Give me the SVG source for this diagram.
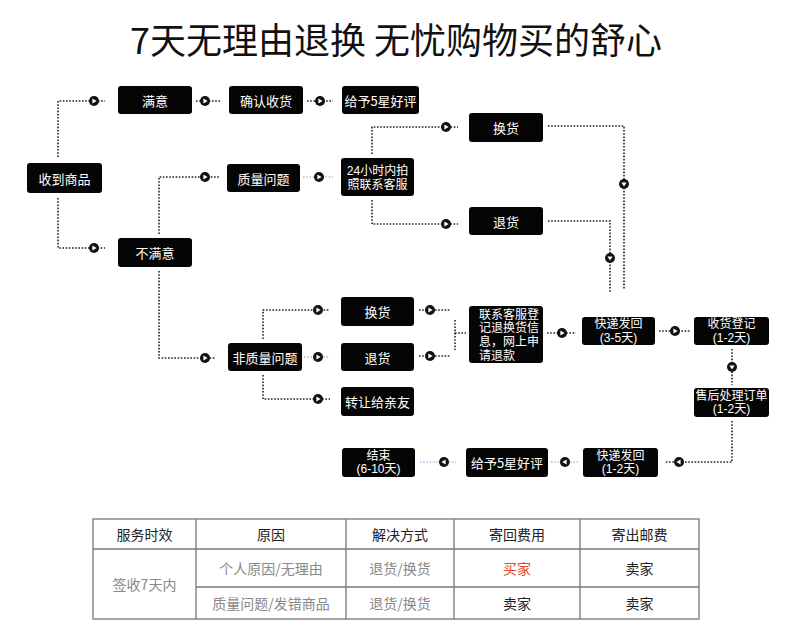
<svg xmlns="http://www.w3.org/2000/svg" width="800" height="632" viewBox="0 0 800 632">
<style>
.bx{fill:#050505}
.t{font-family:"Noto Sans CJK SC","Noto Sans",sans-serif;font-size:13px;fill:#fff;text-anchor:middle;dominant-baseline:central}
.t2{font-family:"Liberation Sans","Noto Sans CJK SC",sans-serif;font-size:12px;fill:#fff;text-anchor:middle;dominant-baseline:central}
.dot{fill:none;stroke:#222;stroke-width:1.6;stroke-dasharray:1.6 1.6}
.blue{fill:none;stroke:#9fc5e8;stroke-width:1.6;stroke-dasharray:1.6 1.6}
.tb{fill:none;stroke:#777;stroke-width:1.3}
.th{font-family:"Noto Sans CJK SC","Noto Sans",sans-serif;font-size:14px;fill:#222;text-anchor:middle;dominant-baseline:central}
.td{font-family:"Noto Sans CJK SC","Noto Sans",sans-serif;font-size:14px;fill:#888;text-anchor:middle;dominant-baseline:central}
</style>
<defs>
<g id="ar"><circle r="5" fill="#111"/><path d="M-1.6,-2.6 L2.6,0 L-1.6,2.6Z" fill="#fff"/></g>
<g id="ad"><circle r="5" fill="#111"/><path d="M-2.6,-1.6 L0,2.6 L2.6,-1.6Z" fill="#fff"/></g>
<g id="al"><circle r="5" fill="#111"/><path d="M1.6,-2.6 L-2.6,0 L1.6,2.6Z" fill="#fff"/></g>
</defs>
<rect width="800" height="632" fill="#fff"/>
<text x="396" y="38" font-family="'Noto Sans CJK SC','Noto Sans',sans-serif" font-size="36" fill="#111" text-anchor="middle" dominant-baseline="central">7天无理由退换 无忧购物买的舒心</text>

<g id="connectors">
<path class="dot" d="M58,157 V101 H105"/>
<path class="dot" d="M58,198 V248 H105"/>
<path class="dot" d="M196,101 H220"/>
<path class="dot" d="M307,101 H333"/>
<path class="dot" d="M159,234 V177 H220"/>
<path class="blue" d="M303,177 H333"/>
<path class="dot" d="M372,154 V127 H458"/>
<path class="dot" d="M372,200 V224 H458"/>
<path class="dot" d="M548,126 H624 V290"/>
<path class="dot" d="M548,221 H610 V292"/>
<path class="dot" d="M159,271 V358 H215"/>
<path class="dot" d="M263,339 V310 H330"/>
<path class="blue" d="M304,357 H330"/>
<path class="dot" d="M263,375 V399 H330"/>
<path class="dot" d="M419,310 H450"/>
<path class="dot" d="M419,356 H450"/>
<path class="dot" d="M455,320 V350"/>
<path class="dot" d="M455,333 H466"/>
<path class="dot" d="M547,333 H576"/>
<path class="dot" d="M659,331 H690"/>
<path class="dot" d="M732,349 V385"/>
<path class="dot" d="M732,421 V462 H665"/>
<path class="blue" d="M551,462 H578"/>
<path class="blue" d="M420,462 H456"/>
<use href="#ar" x="94" y="101"/>
<use href="#ar" x="94" y="248"/>
<use href="#ar" x="205" y="101"/>
<use href="#ar" x="320" y="101"/>
<use href="#ar" x="205" y="177"/>
<use href="#ar" x="319" y="177"/>
<use href="#ar" x="446" y="127"/>
<use href="#ar" x="446" y="224"/>
<use href="#ad" x="624" y="184"/>
<use href="#ad" x="610" y="258"/>
<use href="#ar" x="205" y="358"/>
<use href="#ar" x="318" y="310"/>
<use href="#ar" x="318" y="357"/>
<use href="#ar" x="318" y="399"/>
<use href="#ar" x="430" y="310"/>
<use href="#ar" x="430" y="356"/>
<use href="#ar" x="562" y="333"/>
<use href="#ar" x="675" y="331"/>
<use href="#ad" x="732" y="367"/>
<use href="#al" x="679" y="462"/>
<use href="#al" x="565" y="462"/>
<use href="#al" x="444" y="462"/>
</g>

<g id="n-receive"><rect class="bx" x="27" y="163" width="75" height="30" rx="3"/><text class="t" x="64.5" y="178">收到商品</text></g>
<g id="n-satisfied"><rect class="bx" x="118" y="86" width="74" height="28" rx="3"/><text class="t" x="155" y="100">满意</text></g>
<g id="n-confirm"><rect class="bx" x="229" y="86" width="74" height="28" rx="3"/><text class="t" x="266" y="100">确认收货</text></g>
<g id="n-rate1"><rect class="bx" x="342" y="86" width="77" height="28" rx="3"/><text class="t" x="380.5" y="100">给予5星好评</text></g>
<g id="n-quality"><rect class="bx" x="227" y="164" width="73" height="28" rx="3"/><text class="t" x="263.5" y="178">质量问题</text></g>
<g id="n-contact24"><rect class="bx" x="341" y="158" width="73" height="38" rx="3"/><text class="t2" x="377.5" y="170.5">24小时内拍</text><text class="t2" x="377.5" y="184.5">照联系客服</text></g>
<g id="n-unsatisfied"><rect class="bx" x="118" y="238" width="74" height="29" rx="3"/><text class="t" x="155" y="252.5">不满意</text></g>
<g id="n-exchange1"><rect class="bx" x="469" y="113" width="74" height="29" rx="3"/><text class="t" x="506" y="127.5">换货</text></g>
<g id="n-return1"><rect class="bx" x="469" y="207" width="74" height="28" rx="3"/><text class="t" x="506" y="221">退货</text></g>
<g id="n-nonquality"><rect class="bx" x="228" y="343" width="74" height="28" rx="3"/><text class="t" x="265" y="357">非质量问题</text></g>
<g id="n-exchange2"><rect class="bx" x="341" y="297" width="73" height="29" rx="3"/><text class="t" x="377.5" y="311.5">换货</text></g>
<g id="n-return2"><rect class="bx" x="341" y="343" width="73" height="28" rx="3"/><text class="t" x="377.5" y="357">退货</text></g>
<g id="n-transfer"><rect class="bx" x="341" y="387" width="73" height="29" rx="3"/><text class="t" x="377.5" y="401.5">转让给亲友</text></g>
<g id="n-register"><rect class="bx" x="469" y="306" width="74" height="57" rx="3"/>
<text class="t2" x="479" y="314.5" style="text-anchor:start">联系客服登</text>
<text class="t2" x="479" y="328.2" style="text-anchor:start">记退换货信</text>
<text class="t2" x="479" y="341.9" style="text-anchor:start">息，网上申</text>
<text class="t2" x="479" y="355.6" style="text-anchor:start">请退款</text></g>
<g id="n-ship1"><rect class="bx" x="582" y="317" width="73" height="28" rx="3"/><text class="t2" x="618.5" y="324.2">快递发回</text><text class="t2" x="618.5" y="337.9">(3-5天)</text></g>
<g id="n-receipt"><rect class="bx" x="694" y="317" width="75" height="28" rx="3"/><text class="t2" x="731.5" y="324.2">收货登记</text><text class="t2" x="731.5" y="337.9">(1-2天)</text></g>
<g id="n-process"><rect class="bx" x="694" y="388" width="75" height="29" rx="3"/><text class="t2" x="731.5" y="395.7">售后处理订单</text><text class="t2" x="731.5" y="409.4">(1-2天)</text></g>
<g id="n-ship2"><rect class="bx" x="583" y="448" width="75" height="29" rx="3"/><text class="t2" x="620.5" y="455.7">快递发回</text><text class="t2" x="620.5" y="469.4">(1-2天)</text></g>
<g id="n-rate2"><rect class="bx" x="466" y="448" width="82" height="29" rx="3"/><text class="t" x="507" y="462.5">给予5星好评</text></g>
<g id="n-end"><rect class="bx" x="342" y="448" width="73" height="29" rx="3"/><text class="t2" x="378.5" y="455.7">结束</text><text class="t2" x="378.5" y="469.4">(6-10天)</text></g>

<g id="table">
<rect class="tb" x="93" y="519" width="606" height="100"/>
<line class="tb" x1="93" y1="549" x2="699" y2="549"/>
<line class="tb" x1="196" y1="587" x2="699" y2="587"/>
<line class="tb" x1="196" y1="519" x2="196" y2="619"/>
<line class="tb" x1="346" y1="519" x2="346" y2="619"/>
<line class="tb" x1="454" y1="519" x2="454" y2="619"/>
<line class="tb" x1="580" y1="519" x2="580" y2="619"/>
<text class="th" x="144.5" y="534">服务时效</text>
<text class="th" x="271" y="534">原因</text>
<text class="th" x="400" y="534">解决方式</text>
<text class="th" x="517" y="534">寄回费用</text>
<text class="th" x="639.5" y="534">寄出邮费</text>
<text class="td" x="144.5" y="584">签收7天内</text>
<text class="td" x="271" y="568">个人原因/无理由</text>
<text class="td" x="400" y="568">退货/换货</text>
<text class="th" x="517" y="568" style="fill:#e8452c">买家</text>
<text class="th" x="639.5" y="568">卖家</text>
<text class="td" x="271" y="603">质量问题/发错商品</text>
<text class="td" x="400" y="603">退货/换货</text>
<text class="th" x="517" y="603">卖家</text>
<text class="th" x="639.5" y="603">卖家</text>
</g>
</svg>
